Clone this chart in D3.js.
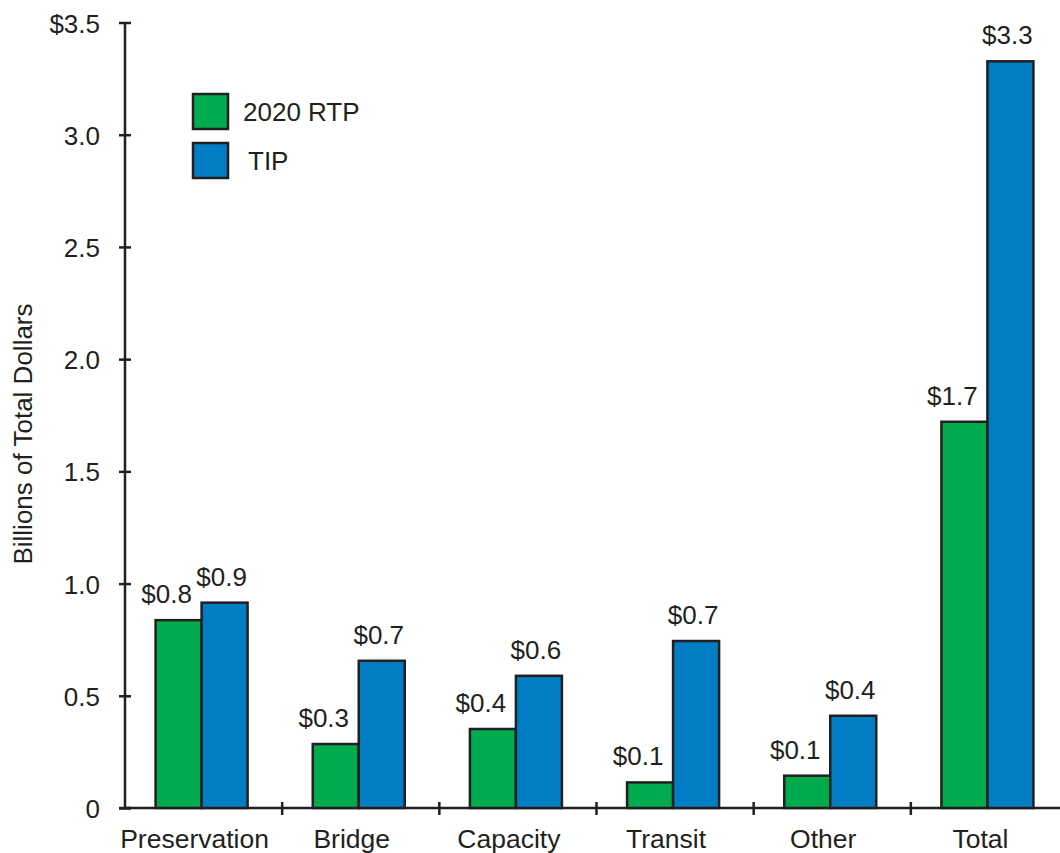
<!DOCTYPE html>
<html>
<head>
<meta charset="utf-8">
<script src="https://cdn.jsdelivr.net/npm/d3@7"></script>
<style>
  html, body { margin: 0; padding: 0; background: #fff; }
  svg { display: block; font-family: "Liberation Sans", Arial, sans-serif; }
</style>
</head>
<body>
<svg id="chart" width="1060" height="853"></svg>
<script>
// Funding by category, billions of dollars
const categories = ["Preservation", "Bridge", "Capacity", "Transit", "Other", "Total"];
const rtp2020 = [0.837, 0.285, 0.352, 0.114, 0.144, 1.721];
const tip = [0.915, 0.656, 0.589, 0.744, 0.411, 3.327];
const seriesNames = ["2020 RTP", "TIP"];
const yTicks = [0, 0.5, 1.0, 1.5, 2.0, 2.5, 3.0, 3.5];
const yTickLabels = ["0", "0.5", "1.0", "1.5", "2.0", "2.5", "3.0", "$3.5"];
const yTitle = "Billions of Total Dollars";

const ink = "#231f20";
const colors = ["#00ab4e", "#007dc3"];

const svg = d3.select("#chart");

const x = d3.scaleBand().domain(categories).range([125, 1068]).padding(0);
const y = d3.scaleLinear().domain([0, 3.5]).range([808, 22.5]);
const barW = 46;
const groupShift = -2;
const series = [rtp2020, tip];

// y axis with ticks crossing the line
const yAxis = svg.append("g")
  .attr("transform", `translate(${x.range()[0]},0)`)
  .call(d3.axisLeft(y).tickValues(yTicks)
    .tickFormat((d, i) => yTickLabels[i])
    .tickSizeOuter(0).tickPadding(19));
yAxis.select(".domain").attr("stroke", ink).attr("stroke-width", 2.5)
  .attr("d", `M0,${y(0)}V${y(3.5)}`);
yAxis.selectAll(".tick line").attr("x1", 6).attr("x2", -6)
  .attr("stroke", ink).attr("stroke-width", 2.5);
yAxis.selectAll(".tick text").attr("fill", ink)
  .style("font-size", "26px").attr("font-family", null).attr("dy", "0.37em");

// x axis: baseline, boundary ticks, category names
const xg = svg.append("g");
xg.append("line")
  .attr("x1", x.range()[0]).attr("x2", x.range()[1])
  .attr("y1", y(0)).attr("y2", y(0))
  .attr("stroke", ink).attr("stroke-width", 2.5);
xg.selectAll("line.bnd").data(categories.slice(1)).join("line")
  .attr("class", "bnd")
  .attr("x1", d => x(d)).attr("x2", d => x(d))
  .attr("y1", y(0) - 6).attr("y2", y(0) + 7)
  .attr("stroke", ink).attr("stroke-width", 2.5);
xg.append("line")
  .attr("x1", x.range()[0] - 6).attr("x2", x.range()[0] + 6)
  .attr("y1", y(0)).attr("y2", y(0))
  .attr("stroke", ink).attr("stroke-width", 2.5);
xg.selectAll("text.cat").data(categories).join("text")
  .attr("class", "cat")
  .attr("x", d => x(d) + x.bandwidth() / 2 - 9)
  .attr("y", 848)
  .attr("text-anchor", "middle")
  .attr("fill", ink)
  .style("font-size", "26.5px")
  .text(d => d);

// bars
const fmt = d3.format("$.1f");
const labelDx = [-12, -3];
const labelGap = 17;
series.forEach((vals, s) => {
  const g = svg.append("g");
  const bx = (c) => x(c) + x.bandwidth() / 2 + groupShift + (s - 1) * barW;
  g.selectAll("rect").data(categories).join("rect")
    .attr("x", d => bx(d))
    .attr("y", (d, i) => y(vals[i]))
    .attr("width", barW)
    .attr("height", (d, i) => y(0) - y(vals[i]))
    .attr("fill", colors[s])
    .attr("stroke", ink).attr("stroke-width", 2.5);
  g.selectAll("text").data(categories).join("text")
    .attr("x", d => bx(d) + barW / 2 + labelDx[s])
    .attr("y", (d, i) => y(vals[i]) - labelGap)
    .attr("text-anchor", "middle")
    .attr("fill", ink)
    .style("font-size", "26px")
    .text((d, i) => fmt(vals[i]));
});

// legend
const leg = svg.append("g").attr("transform", "translate(193,94)");
seriesNames.forEach((name, i) => {
  leg.append("rect")
    .attr("x", 0).attr("y", i * 49)
    .attr("width", 35).attr("height", 35)
    .attr("fill", colors[i]).attr("stroke", ink).attr("stroke-width", 2.5);
  leg.append("text")
    .attr("x", i === 0 ? 50 : 55).attr("y", i * 49 + 27)
    .attr("fill", ink).style("font-size", "26px")
    .text(name);
});

// y axis title
svg.append("text")
  .attr("transform", `translate(32,${(301 + 567) / 2}) rotate(-90)`)
  .attr("text-anchor", "middle")
  .attr("fill", ink)
  .style("font-size", "26px")
  .text(yTitle);
</script>
</body>
</html>
